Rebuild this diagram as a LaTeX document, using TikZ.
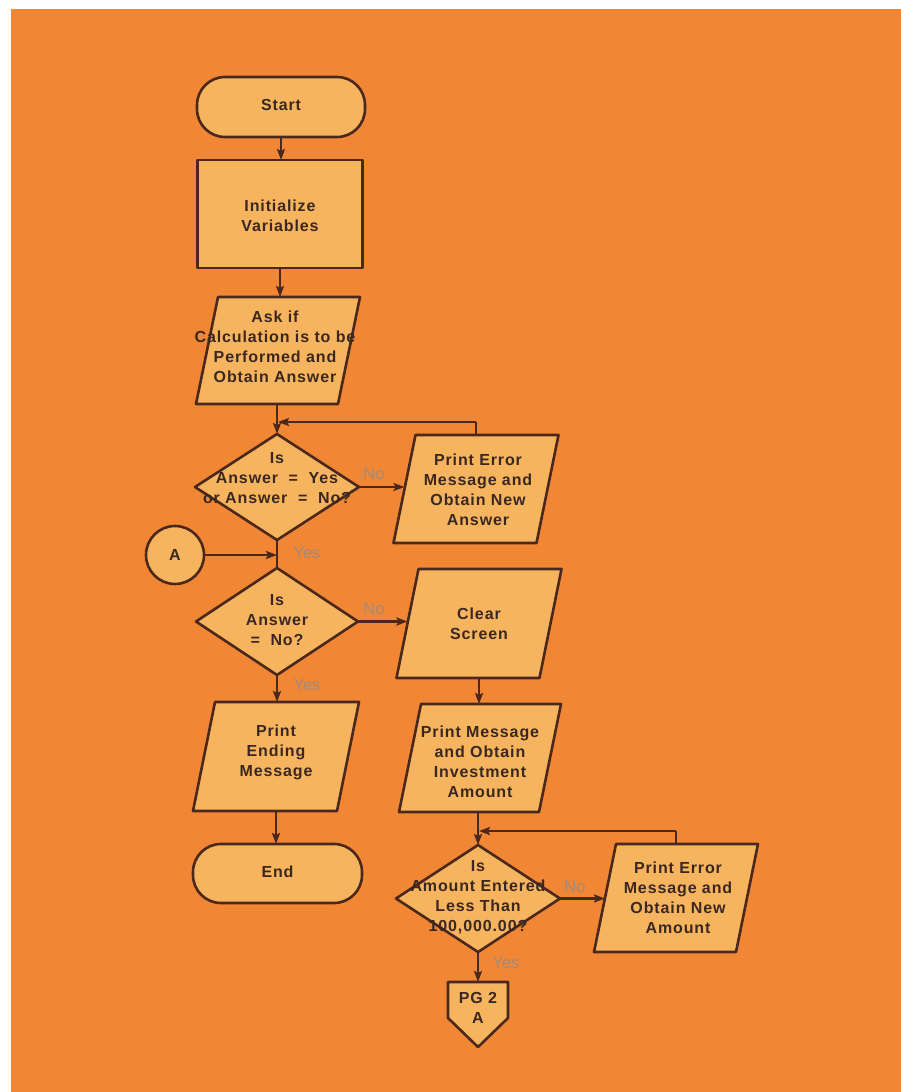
\documentclass[tikz,border=0pt]{standalone}
\usepackage{fontspec}
\setmainfont{Liberation Sans}
\newfontfamily\chartfont[LetterSpace=5.5]{Liberation Sans}
\usetikzlibrary{arrows.meta,calc}
\definecolor{paper}{HTML}{F18735}
\definecolor{boxfill}{HTML}{F7B45F}
\definecolor{ink}{HTML}{4A281C}
\definecolor{textink}{HTML}{3A2820}
\definecolor{tag}{HTML}{A38A7A}
\begin{document}
\begin{tikzpicture}[x=1pt,y=-1pt,
  slot/.style={draw=none, inner sep=0pt, outer sep=0pt, rectangle},
  outline/.style={draw=ink, fill=boxfill, line width=2.6pt, line join=round},
  words/.style={text=textink, align=center, inner sep=0pt,
    font=\chartfont\bfseries\fontsize{16}{20}\selectfont},
  tagtext/.style={text=tag, inner sep=0pt, font=\fontsize{16.5}{20}\selectfont},
  arr/.style={draw=ink, line width=2.3pt,
    -{Stealth[length=11pt,width=8pt,inset=2pt]}},
  link/.style={draw=ink, line width=2.3pt}]

% page
\fill[white] (0,0) rectangle (901,1092);
\fill[paper] (11,9) rectangle (901,1092);

% placeholders that carry the shape geometry
\node[slot, minimum width=168pt, minimum height=60pt] (start) at (281,107) {};
\node[slot, minimum width=165pt, minimum height=108pt] (init) at (280,214) {};
\node[slot, minimum width=142pt, minimum height=107pt] (ask) at (278,350.5) {};
\node[slot, minimum width=164pt, minimum height=106pt] (d1) at (277,487) {};
\node[slot, minimum width=143pt, minimum height=108pt] (err1) at (476,489) {};
\node[slot, circle, minimum size=58pt] (A) at (175,555) {};
\node[slot, minimum width=162pt, minimum height=107pt] (d2) at (277,621.5) {};
\node[slot, minimum width=143pt, minimum height=109pt] (clear) at (479,623.5) {};
\node[slot, minimum width=144pt, minimum height=109pt] (ending) at (276,756.5) {};
\node[slot, minimum width=169pt, minimum height=59pt] (end) at (277.5,873.5) {};
\node[slot, minimum width=140pt, minimum height=108pt] (pm) at (480,758) {};
\node[slot, minimum width=164pt, minimum height=107pt] (d3) at (478,898.5) {};
\node[slot, minimum width=142pt, minimum height=108pt] (err2) at (676,898) {};
\node[slot, minimum width=60pt, minimum height=36pt] (pg) at (478,1000) {};

% terminals
\draw[outline, rounded corners=28pt] (start.north west) rectangle (start.south east);
\draw[outline, rounded corners=28pt] (end.north west) rectangle (end.south east);
% process box
\draw[outline] (init.north west) rectangle (init.south east);
% input/output parallelograms
\foreach \n in {ask,err1,clear,ending,pm,err2}{
  \draw[outline] ([xshift=-11pt]\n.south west) -- ([xshift=-11pt]\n.south east)
    -- ([xshift=11pt]\n.north east) -- ([xshift=11pt]\n.north west) -- cycle;
}
% decisions
\foreach \n in {d1,d2,d3}{
  \draw[outline] (\n.north) -- (\n.east) -- (\n.south) -- (\n.west) -- cycle;
}
% connector circle
\draw[outline] (A) circle (29pt);
% off-page connector
\draw[outline] (pg.north west) -- (pg.north east) -- (pg.south east)
  -- ($(pg.south)+(0,29)$) -- (pg.south west) -- cycle;

% texts
\node[words] (start-t) at ($(start)+(0,-2)$) {Start};
\node[words] (init-t) at ($(init)+(0,2)$) {Initialize\\Variables};
\node[words] (ask-t) at ($(ask)+(-3,-4)$) {Ask if\\Calculation is to be\\Performed and\\Obtain Answer};
\node[words] (d1-t) at ($(d1)+(0,-9)$) {Is\\Answer \ = \ Yes\\or Answer \ = \ No?};
\node[words] (err1-t) at ($(err1)+(2,1)$) {Print Error\\Message and\\Obtain New\\Answer};
\node[words] (A-t) at (A) {A};
\node[words] (d2-t) at ($(d2)+(0,-1)$) {Is\\Answer\\= \ No?};
\node[words] (clear-t) at (clear) {Clear\\Screen};
\node[words] (ending-t) at ($(ending)+(0,-4)$) {Print\\Ending\\Message};
\node[words] (end-t) at ($(end)+(0,-2)$) {End};
\node[words] (pm-t) at ($(pm)+(0,4)$) {Print Message\\and Obtain\\Investment\\Amount};
\node[words] (d3-t) at ($(d3)+(0,-1)$) {Is\\Amount Entered\\Less Than\\100,000.00?};
\node[words] (err2-t) at ($(err2)+(2,0)$) {Print Error\\Message and\\Obtain New\\Amount};
\node[words] (pg-t) at ($(pg)+(0,7.5)$) {PG 2\\A};

% branch labels
\node[tagtext] (no1) at (374,474) {No};
\node[tagtext] (yes1) at (307,553) {Yes};
\node[tagtext] (no2) at (374,609) {No};
\node[tagtext] (yes2) at (307,685) {Yes};
\node[tagtext] (no3) at (575,887) {No};
\node[tagtext] (yes3) at (506,963) {Yes};

% junctions where the retry loops rejoin
\coordinate (j1) at (277,422);
\coordinate (j2) at (478,831);

% main column
\draw[arr] (start.south) -- (start.south |- init.north);
\draw[arr] (init.south) -- (init.south |- ask.north);
\draw[arr] (ask.south -| d1.north) -- (d1.north);
\draw[arr] (d1.east) -- (d1.east -| err1.west);
\draw[link] (err1.north) -- (err1.north |- j1);
\draw[arr] (err1.north |- j1) -- ($(j1)+(1,0)$);
\draw[link] (d1.south) -- (d2.north);
\draw[arr] (A.east) -- (A.east -| d2.north);
\draw[arr] (d2.east) -- (d2.east -| clear.west);
\draw[arr] (d2.south) -- (d2.south |- ending.north);
\draw[arr] (ending.south) -- (ending.south |- end.north);
\draw[arr] (clear.south) -- (clear.south |- pm.north);
\draw[arr] (pm.south -| d3.north) -- (d3.north);
\draw[link] (err2.north) -- (err2.north |- j2);
\draw[arr] (err2.north |- j2) -- ($(j2)+(1,0)$);
\draw[arr] (d3.east) -- (d3.east -| err2.west);
\draw[arr] (d3.south) -- (pg.north);
\end{tikzpicture}
\end{document}
